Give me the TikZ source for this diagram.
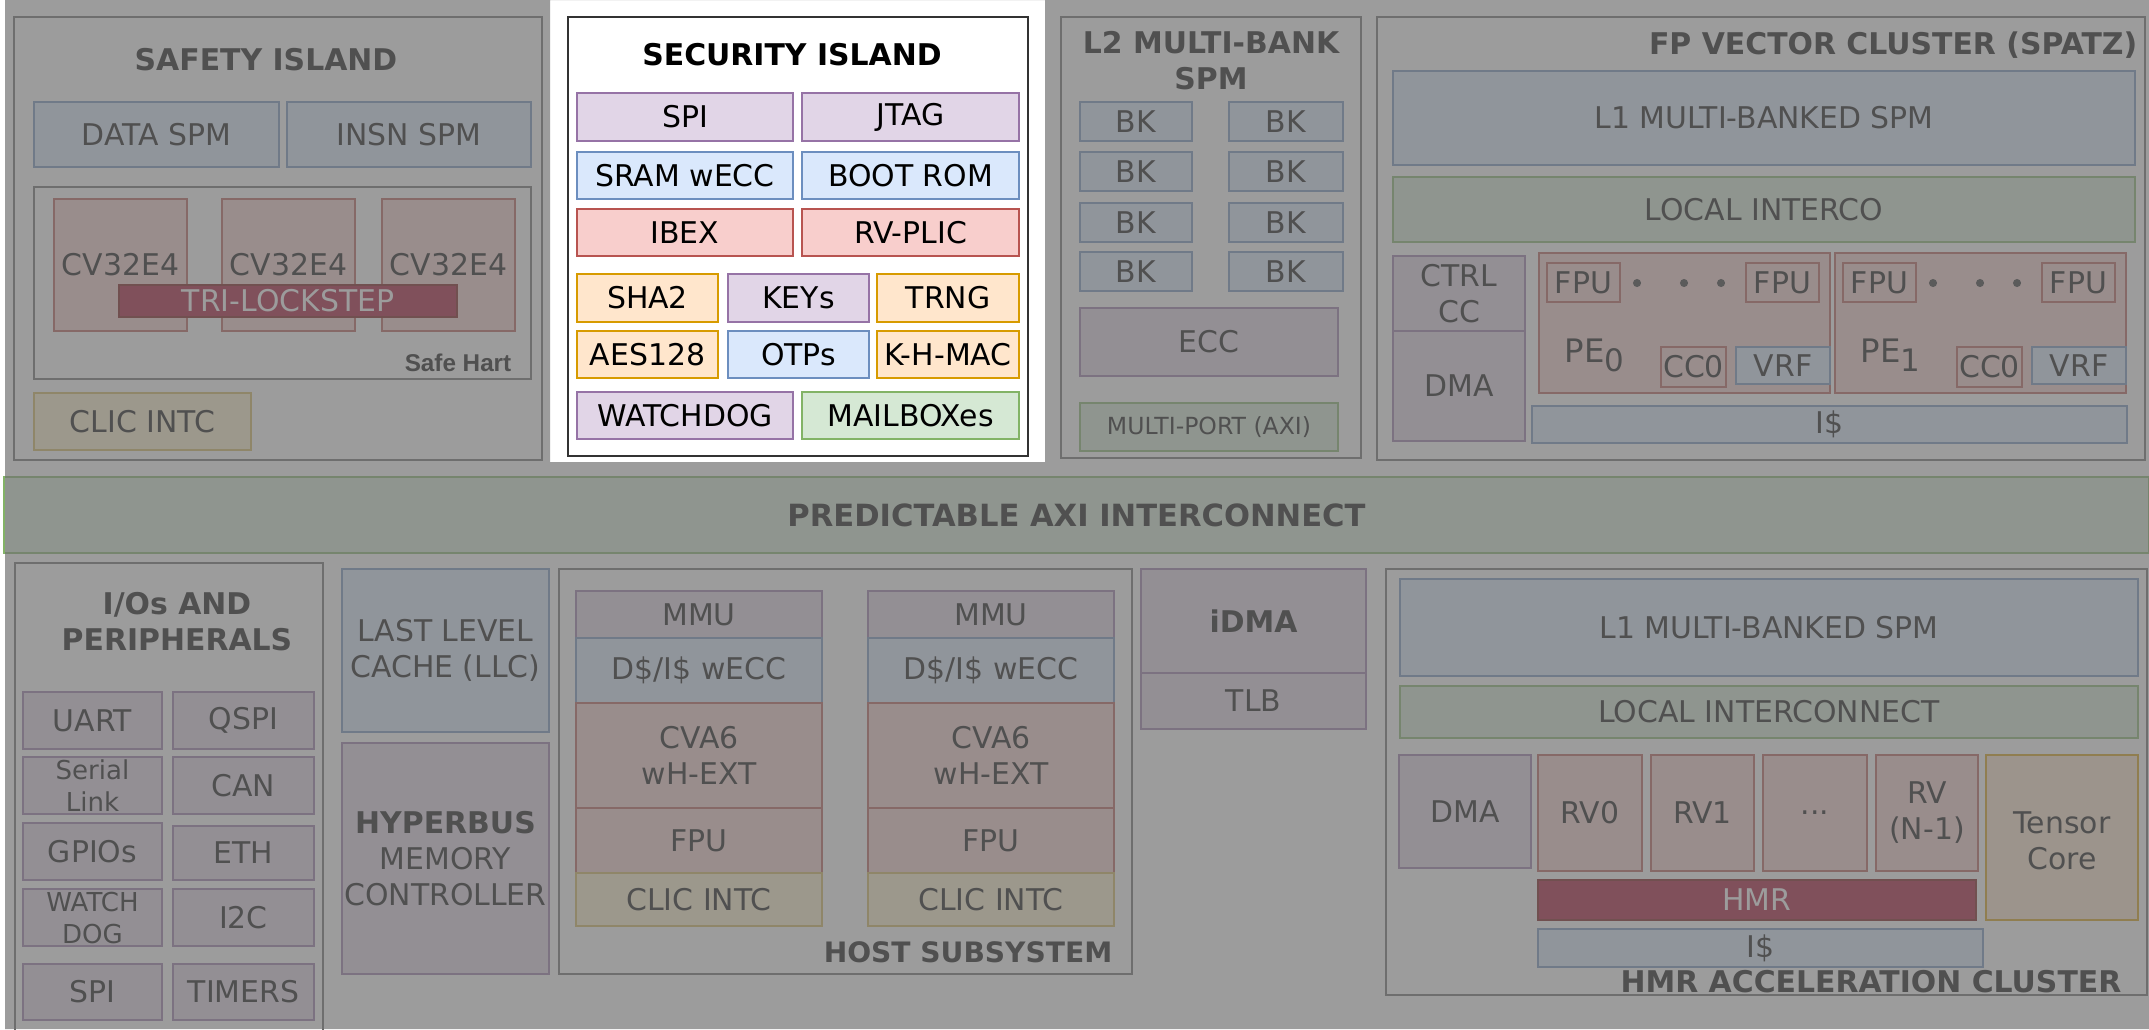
\documentclass[tikz,border=0pt]{standalone}
\usepackage{fontspec}
\setmainfont{DejaVu Sans}
\newfontfamily\hartfont{Liberation Sans}
\usepackage{tikz}
\definecolor{bluefill}{HTML}{DAE8FC}
\definecolor{blueline}{HTML}{6C8EBF}
\definecolor{purplefill}{HTML}{E1D5E7}
\definecolor{purpleline}{HTML}{9673A6}
\definecolor{redfill}{HTML}{F8CECC}
\definecolor{redline}{HTML}{B85450}
\definecolor{orangefill}{HTML}{FFE6CC}
\definecolor{orangeline}{HTML}{D79B00}
\definecolor{greenfill}{HTML}{D5E8D4}
\definecolor{greenline}{HTML}{82B366}
\definecolor{yellowfill}{HTML}{FFF2CC}
\definecolor{yellowline}{HTML}{D6B656}
\definecolor{hmrfill}{HTML}{A20025}
\definecolor{hmrline}{HTML}{6F0000}
\definecolor{frameline}{HTML}{666666}
\definecolor{dimgray}{HTML}{727272}

\begin{document}
\begin{tikzpicture}[x=0.01cm, y=-0.01cm,
    every node/.style={inner sep=0pt, align=center, font=\fontsize{8.5}{10.25}\selectfont},
    frame/.style={draw=frameline, line width=0.5pt, fill=white},
    blubox/.style={draw=blueline, fill=bluefill, line width=0.4pt},
    purbox/.style={draw=purpleline, fill=purplefill, line width=0.4pt},
    redbox/.style={draw=redline, fill=redfill, line width=0.4pt},
    orgbox/.style={draw=orangeline, fill=orangefill, line width=0.4pt},
    grnbox/.style={draw=greenline, fill=greenfill, line width=0.4pt},
    ylwbox/.style={draw=yellowline, fill=yellowfill, line width=0.4pt},
    hmrbox/.style={draw=hmrline, fill=hmrfill, line width=0.4pt},
    islandtitle/.style={font=\fontsize{8.5}{10.25}\selectfont\bfseries},
    smalltext/.style={font=\fontsize{7.4}{9.1}\selectfont}]

  \useasboundingbox (0,0) rectangle (2149,1029);
  \clip (0,0) rectangle (2149,1029);
  \fill[white] (0,0) rectangle (2149,1029);

  % Safety island
  \draw[frame] (14,17) rectangle (542,460);
  \node[islandtitle] (safetytitle) at (266,60) {SAFETY ISLAND};
  \draw[blubox] (34,102) rectangle (279,167) node[midway] (dataspm) {DATA SPM};
  \draw[blubox] (287,102) rectangle (531,167) node[midway] (insnspm) {INSN SPM};
  \draw[frame] (34,187) rectangle (531,379);
  \foreach \x/\n in {54/a,222/b,382/c}
    \draw[redbox] (\x,199) rectangle ({\x+133},331) node[midway] (cv\n) {CV32E4};
  \draw[hmrbox] (119,285) rectangle (457,317) node[midway, text=white] (lockstep) {TRI-LOCKSTEP};
  \node[font=\hartfont\fontsize{6.9}{8}\selectfont\bfseries, anchor=east] (safehart) at (512,363) {Safe Hart};
  \draw[ylwbox] (34,393) rectangle (251,450) node[midway] (clicsafe) {CLIC INTC};

  % Security island
  \draw[draw=black!80, line width=0.5pt, fill=white] (568,17) rectangle (1028,456);
  \node[islandtitle] (sectitle) at (792,55) {SECURITY ISLAND};
  \draw[purbox] (577,93) rectangle (793,141) node[midway] (secspi) {SPI};
  \draw[purbox] (802,93) rectangle (1019,141) node[midway] (jtag) {JTAG};
  \draw[blubox] (577,152) rectangle (793,199) node[midway] (sram) {SRAM wECC};
  \draw[blubox] (802,152) rectangle (1019,199) node[midway] (bootrom) {BOOT ROM};
  \draw[redbox] (577,209) rectangle (793,256) node[midway] (ibex) {IBEX};
  \draw[redbox] (802,209) rectangle (1019,256) node[midway] (plic) {RV-PLIC};
  \draw[orgbox] (577,274) rectangle (718,322) node[midway] (sha) {SHA2};
  \draw[purbox] (728,274) rectangle (869,322) node[midway] (keys) {KEYs};
  \draw[orgbox] (877,274) rectangle (1019,322) node[midway] (trng) {TRNG};
  \draw[orgbox] (577,331) rectangle (718,378) node[midway] (aes) {AES128};
  \draw[blubox] (728,331) rectangle (869,378) node[midway] (otps) {OTPs};
  \draw[orgbox] (877,331) rectangle (1019,378) node[midway] (khmac) {K-H-MAC};
  \draw[purbox] (577,392) rectangle (793,439) node[midway] (secwdog) {WATCHDOG};
  \draw[grnbox] (802,392) rectangle (1019,439) node[midway] (mailbox) {MAILBOXes};

  % L2 memory
  \draw[frame] (1061,17) rectangle (1361,458);
  \node[islandtitle] (l2title) at (1211,61) {L2 MULTI-BANK\\SPM};
  \foreach \r/\y in {1/102,2/152,3/203,4/252} {
    \draw[blubox] (1080,\y) rectangle (1192,{\y+39}) node[midway] (bk\r a) {BK};
    \draw[blubox] (1229,\y) rectangle (1343,{\y+39}) node[midway] (bk\r b) {BK};
  }
  \draw[purbox] (1080,308) rectangle (1338,376) node[midway] (ecc) {ECC};
  \draw[grnbox] (1080,403) rectangle (1338,451) node[midway, font=\fontsize{6.7}{8}\selectfont] (multiport) {MULTI-PORT (AXI)};

  % FP vector cluster
  \draw[frame] (1377,17) rectangle (2145,460);
  \node[islandtitle, anchor=east] (fptitle) at (2138,45) {FP VECTOR CLUSTER (SPATZ)};
  \draw[blubox] (1393,71) rectangle (2135,165) node[midway] (fpspm) {L1 MULTI-BANKED SPM};
  \draw[grnbox] (1393,177) rectangle (2135,242) node[midway] (fpico) {LOCAL INTERCO};
  \draw[purbox] (1393,256) rectangle (1525,331) node[midway] (ctrlcc) {CTRL\\CC};
  \draw[purbox] (1393,331) rectangle (1525,441) node[midway] (fpdma) {DMA};
  \foreach \x/\i in {1539/0,1835/1} {
    \draw[redbox] (\x,253) rectangle ({\x+291},393);
    \draw[redbox] ({\x+8},263) rectangle ({\x+81},302) node[midway] (fpua\i) {FPU};
    \draw[redbox] ({\x+207},263) rectangle ({\x+280},302) node[midway] (fpub\i) {FPU};
    \foreach \d in {98,145,182}
      \fill[black!85] ({\x+\d},283) circle[radius=1.15pt];
    \node[anchor=base west, font=\fontsize{9.2}{11}\selectfont] (pe\i) at ({\x+25},362) {PE\raisebox{-2.8pt}{\fontsize{8.8}{10}\selectfont\i}};
    \draw[redbox] ({\x+122},347) rectangle ({\x+187},387) node[midway] (cc\i) {CC0};
    \draw[blubox] ({\x+197},347) rectangle ({\x+291},384) node[midway] (vrf\i) {VRF};
  }
  \draw[blubox] (1532,406) rectangle (2127,443) node[midway] (fpicache) {I\$};

  % Interconnect
  \draw[grnbox] (4,477) rectangle (2149,553) node[midway, font=\fontsize{8.7}{10}\selectfont\bfseries] (axi) {PREDICTABLE AXI INTERCONNECT};

  % I/Os and peripherals
  \draw[frame] (15,563) rectangle (323,1040);
  \node[islandtitle] (iotitle) at (177,622) {I/Os AND\\PERIPHERALS};
  \draw[purbox] (23,692) rectangle (162,749) node[midway] (uart) {UART};
  \draw[purbox] (173,692) rectangle (314,749) node[midway] (qspi) {QSPI};
  \draw[purbox] (23,757) rectangle (162,814) node[midway, smalltext] (serial) {Serial\\Link};
  \draw[purbox] (173,757) rectangle (314,814) node[midway] (can) {CAN};
  \draw[purbox] (23,823) rectangle (162,880) node[midway] (gpio) {GPIOs};
  \draw[purbox] (173,826) rectangle (314,880) node[midway] (eth) {ETH};
  \draw[purbox] (23,889) rectangle (162,946) node[midway, smalltext] (wdog) {WATCH\\DOG};
  \draw[purbox] (173,889) rectangle (314,946) node[midway] (iic) {I2C};
  \draw[purbox] (23,964) rectangle (162,1020) node[midway] (spi) {SPI};
  \draw[purbox] (173,964) rectangle (314,1020) node[midway] (timers) {TIMERS};

  % LLC and HyperBus
  \draw[blubox] (342,569) rectangle (549,732) node[midway] (llc) {LAST LEVEL\\CACHE (LLC)};
  \draw[purbox] (342,743) rectangle (549,974) node[midway] (hyperbus) {\textbf{HYPERBUS}\\MEMORY\\CONTROLLER};

  % Host subsystem
  \draw[frame] (559,569) rectangle (1132,974);
  \foreach \x/\n in {576/a,868/b} {
    \draw[purbox] (\x,591) rectangle ({\x+246},638) node[midway] (mmu\n) {MMU};
    \draw[blubox] (\x,638) rectangle ({\x+246},703) node[midway] (cache\n) {D\$/I\$ wECC};
    \draw[redbox] (\x,703) rectangle ({\x+246},808) node[midway] (cva\n) {CVA6\\wH-EXT};
    \draw[redbox] (\x,808) rectangle ({\x+246},873) node[midway] (hostfpu\n) {FPU};
    \draw[ylwbox] (\x,873) rectangle ({\x+246},926) node[midway] (clic\n) {CLIC INTC};
  }
  \node[font=\fontsize{8}{10}\selectfont\bfseries, anchor=east] (hosttitle) at (1113,952) {HOST SUBSYSTEM};

  % iDMA
  \draw[purbox] (1141,569) rectangle (1366,673) node[midway] (idma) {\textbf{iDMA}};
  \draw[purbox] (1141,673) rectangle (1366,729) node[midway] (tlb) {TLB};

  % HMR acceleration cluster
  \draw[frame] (1386,569) rectangle (2147,995);
  \draw[blubox] (1400,579) rectangle (2138,676) node[midway] (hmrspm) {L1 MULTI-BANKED SPM};
  \draw[grnbox] (1400,686) rectangle (2138,738) node[midway] (hmrico) {LOCAL INTERCONNECT};
  \draw[purbox] (1399,755) rectangle (1531,868) node[midway] (hmrdma) {DMA};
  \draw[redbox] (1538,755) rectangle (1642,871) node[midway] (rv0) {RV0};
  \draw[redbox] (1651,755) rectangle (1754,871) node[midway] (rv1) {RV1};
  \draw[redbox] (1763,755) rectangle (1867,871) node[midway] (rvdots) {...};
  \draw[redbox] (1876,755) rectangle (1978,871) node[midway] (rvn) {RV\\(N-1)};
  \draw[orgbox] (1986,755) rectangle (2138,920) node[midway, yshift=-0.9pt] (tensor) {Tensor\\Core};
  \draw[hmrbox] (1538,880) rectangle (1976,920) node[midway, text=white] (hmr) {HMR};
  \draw[blubox] (1538,929) rectangle (1983,967) node[midway] (hmricache) {I\$};
  \node[islandtitle, anchor=east] (hmrtitle) at (2122,982) {HMR ACCELERATION CLUSTER};

  % Dimmed overlay, security island left bright
  \fill[dimgray, opacity=0.7, even odd rule] (5,0) rectangle (2149,1029) (550,0) rectangle (1045,462);
\end{tikzpicture}
\end{document}
